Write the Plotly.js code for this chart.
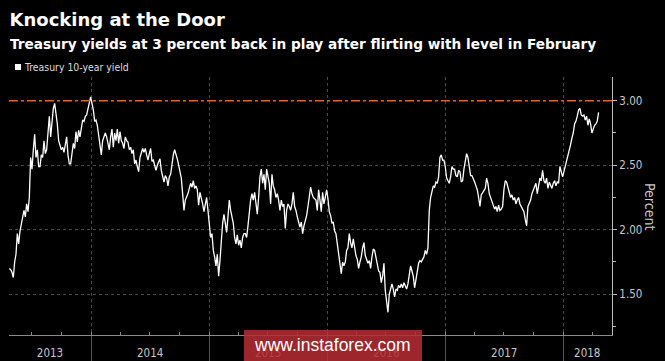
<!DOCTYPE html>
<html>
<head>
<meta charset="utf-8">
<script src="https://cdn.plot.ly/plotly-3.0.1.min.js"></script>
<style>
  html, body { margin: 0; padding: 0; background: #000; }
  #chart { width: 665px; height: 361px; }
</style>
</head>
<body>
<div id="chart"></div>
<script>
// ---- data ----
const seriesName = 'Treasury 10-year yield';
const startDate = '2013-04-22';      // first observation
const stepDays = 4.127;              // spacing between sampled observations
const yields2013 = [1.70,1.69,1.67,1.63,1.75,1.81,1.97,1.89,1.99,2.05,2.12,2.15,2.10,2.20,2.14,2.25,2.56,2.47,2.62,2.74,
  2.56,2.62,2.49,2.49,2.58,2.56,2.69,2.59,2.62,2.77,2.88,2.72,2.84,2.94,2.98,2.90,2.82,2.69,2.66,2.62,
  2.64,2.60,2.66,2.72,2.58,2.51,2.51,2.58,2.67,2.63,2.76,2.68,2.77,2.72,2.81,2.85,2.84,2.88,2.89,2.94,
  2.98,3.03,2.98,2.93,2.84,2.85,2.81,2.73,2.69,2.58,2.69,2.73,2.75,2.72,2.67,2.62,2.72,2.78,2.64,2.75,
  2.69,2.78,2.67,2.76,2.69,2.67,2.63];
const yields2014 = [2.72,2.69,2.68,2.62,2.64,2.59,2.62,2.51,2.54,2.49,2.45,2.56,2.60,2.63,2.60,2.63,2.58,2.54,2.59,2.63,
  2.53,2.54,2.50,2.46,2.50,2.53,2.55,2.46,2.42,2.37,2.42,2.40,2.34,2.41,2.43,2.53,2.58,2.62,2.59,2.55,
  2.50,2.46,2.40,2.28,2.15,2.23,2.25,2.28,2.32,2.36,2.33,2.38,2.32,2.34,2.31,2.19,2.29,2.25,2.20,2.14,
  2.19,2.25,2.15,2.05,1.94,1.97,1.84,1.79,1.72,1.81,1.64,1.76,1.92,2.05,2.12,2.06,1.98,2.10,2.23,2.15,
  2.10,2.05,1.94,1.89,1.96,1.88,1.92,1.86,1.94,1.97];
const yields2015 = [1.97,1.94,2.03,2.15,2.23,2.28,2.23,2.29,2.18,2.12,2.25,2.41,2.47,2.36,2.43,2.31,2.47,2.40,2.36,2.20,
  2.43,2.34,2.31,2.25,2.28,2.23,2.15,2.23,2.18,2.20,2.01,2.15,2.20,2.18,2.15,2.20,2.29,2.18,2.15,2.10,
  2.05,2.02,2.06,1.97,2.03,2.07,2.11,2.18,2.25,2.33,2.28,2.25,2.24,2.23,2.15,2.31,2.23,2.14,2.29,2.20,
  2.25,2.31,2.24,2.14,2.11,2.05,2.06,1.99,1.97,1.89,1.81,1.74,1.66,1.75,1.72,1.75,1.84,1.86,1.97,1.90,
  1.86,1.93,1.86,1.80,1.77,1.70,1.75,1.79,1.86,1.90];
const yields2016 = [1.80,1.77,1.74,1.76,1.70,1.79,1.85,1.84,1.79,1.74,1.68,1.67,1.59,1.64,1.74,1.53,1.42,1.36,1.50,1.55,
  1.58,1.54,1.48,1.54,1.53,1.57,1.55,1.58,1.55,1.59,1.57,1.54,1.58,1.66,1.72,1.68,1.64,1.55,1.61,1.68,
  1.74,1.76,1.75,1.77,1.79,1.84,1.81,1.86,2.15,2.25,2.29,2.34,2.33,2.37,2.36,2.41,2.56,2.58,2.54,2.54,
  2.49,2.40,2.38,2.36,2.41,2.49,2.47,2.47,2.42,2.41,2.46,2.45,2.37,2.38,2.47,2.54,2.59,2.56,2.47,2.42,
  2.42,2.40,2.37,2.34,2.31,2.25,2.18,2.27,2.29,2.31];
const yields2017 = [2.32,2.40,2.36,2.28,2.25,2.23,2.19,2.16,2.18,2.14,2.19,2.15,2.16,2.18,2.31,2.38,2.37,2.33,2.31,2.25,
  2.27,2.23,2.25,2.20,2.23,2.25,2.20,2.18,2.16,2.14,2.08,2.03,2.18,2.20,2.23,2.28,2.31,2.33,2.36,2.28,
  2.33,2.40,2.38,2.46,2.38,2.36,2.40,2.32,2.37,2.34,2.32,2.36,2.38,2.34,2.37,2.36,2.49,2.45,2.41,2.45,
  2.49,2.54,2.56,2.62,2.66,2.71,2.75,2.82,2.84,2.88,2.93,2.94,2.89,2.88,2.89,2.85,2.88,2.81,2.86,2.82,
  2.75,2.78,2.81,2.82,2.84,2.91];
const yields = [].concat(yields2013, yields2014, yields2015, yields2016, yields2017);

const thresholdLevel = 3.00;
const yTickVals = [1.50, 2.00, 2.50, 3.00];
const yTickText = ['1.50', '2.00', '2.50', '3.00'];
const yMinorVals = [1.25, 1.75, 2.25, 2.75];
const yearBoundaries = ['2014-01-01', '2015-01-01', '2016-01-01', '2017-01-01', '2018-01-01'];
const yearLabels = ['2013', '2014', '2015', '2016', '2017', '2018'];
const yearLabelPos = ['2013-08-26', '2014-07-02', '2015-07-02', '2016-07-02', '2017-07-02', '2018-03-16'];
const xRange = ['2013-04-21', '2018-05-31 16:00'];
const yRange = [1.184, 3.184];

const titleText = 'Knocking at the Door';
const subtitleText = 'Treasury yields at 3 percent back in play after flirting with level in February';
const axisTitleText = 'Percent';
const watermarkText = 'www.instaforex.com';

// ---- chart ----
const condensed = '"DejaVu Sans Condensed", "DejaVu Sans", sans-serif';
const traces = [
  {
    type: 'scatter', mode: 'lines', name: seriesName,
    x0: startDate, dx: stepDays * 86400000, y: yields,
    line: { color: '#ffffff', width: 1.3 },
    showlegend: false, hoverinfo: 'x+y'
  },
  {
    type: 'scatter', mode: 'markers', x: yearLabelPos, y: yearLabelPos.map(() => null),
    xaxis: 'x2', yaxis: 'y', showlegend: false, hoverinfo: 'skip'
  }
];

const layout = {
  width: 665, height: 361,
  paper_bgcolor: '#000', plot_bgcolor: '#000',
  margin: { l: 9, r: 53, t: 77, b: 26, pad: 0 },
  showlegend: false,
  title: {
    text: '<b>' + titleText + '</b>',
    font: { family: '"DejaVu Sans", sans-serif', size: 18, color: '#ffffff' },
    xref: 'container', yref: 'container',
    x: 9.5 / 665, xanchor: 'left', y: 1 - 20 / 361, yanchor: 'middle', pad: { t: 0, b: 0, l: 0, r: 0 }
  },
  xaxis: {
    type: 'date', range: xRange,
    tickmode: 'array', tickvals: yearBoundaries, showticklabels: false,
    ticks: 'outside', ticklen: 26, tickcolor: '#555', tickwidth: 1,
    showgrid: true, gridcolor: '#4a4a4a', griddash: 'dot', gridwidth: 1,
    showline: true, linecolor: '#8a8a8a', linewidth: 1,
    zeroline: false, fixedrange: true,
    minor: { dtick: 'M3', tick0: '2013-01-01', ticks: 'inside', ticklen: 3, tickcolor: '#8a8a8a', showgrid: false }
  },
  xaxis2: {
    type: 'date', range: xRange, overlaying: 'x', anchor: 'y', side: 'bottom',
    tickmode: 'array', tickvals: yearLabelPos, ticktext: yearLabels,
    ticks: '', showgrid: false, showline: false, zeroline: false,
    ticklabelstandoff: 9,
    tickfont: { family: condensed, size: 11.5, color: '#c8c8c8' }
  },
  yaxis: {
    side: 'right', range: yRange,
    tickmode: 'array', tickvals: yTickVals, ticktext: yTickText,
    ticks: 'outside', ticklen: 4, tickcolor: '#bbbbbb', tickwidth: 1,
    tickfont: { family: condensed, size: 11.5, color: '#c8c8c8' },
    showgrid: true, gridcolor: '#4a4a4a', griddash: 'dot', gridwidth: 1,
    showline: true, linecolor: '#bbbbbb', linewidth: 1,
    zeroline: false, fixedrange: true,
    minor: { tickvals: yMinorVals, ticks: 'outside', ticklen: 3, tickcolor: '#bbbbbb', showgrid: false }
  },
  shapes: [
    { type: 'line', xref: 'paper', x0: 0, x1: 1, yref: 'y', y0: thresholdLevel, y1: thresholdLevel,
      line: { color: '#ff5a14', width: 1.6, dash: 'dashdot' }, layer: 'above' },
    { type: 'rect', xref: 'paper', yref: 'paper', x0: (15 - 9) / 603, x1: (21 - 9) / 603,
      y0: (335 - 70) / 258, y1: (335 - 64) / 258,
      fillcolor: '#ffffff', line: { width: 0 } },
    { type: 'rect', xref: 'paper', yref: 'paper', x0: (244 - 9) / 603, x1: (422 - 9) / 603,
      y0: (335 - 362) / 258, y1: (335 - 330) / 258,
      fillcolor: 'rgba(182,44,50,0.86)', line: { width: 0 }, layer: 'above' }
  ],
  annotations: [
    { text: '<b>' + subtitleText + '</b>', xref: 'paper', yref: 'paper',
      x: (8 - 9) / 603, xanchor: 'left', y: (335 - 44) / 258, yanchor: 'middle', showarrow: false,
      font: { family: '"DejaVu Sans", sans-serif', size: 13.7, color: '#ffffff' } },
    { text: seriesName, xref: 'paper', yref: 'paper',
      x: (22 - 9) / 603, xanchor: 'left', y: (335 - 67) / 258, yanchor: 'middle', showarrow: false,
      font: { family: condensed, size: 10.4, color: '#dddddd' } },
    { text: axisTitleText, xref: 'paper', yref: 'paper', textangle: 90,
      x: (650 - 9) / 603, xanchor: 'center', y: (335 - 206) / 258, yanchor: 'middle', showarrow: false,
      font: { family: condensed, size: 14, color: '#c8c8c8' } },
    { text: watermarkText, xref: 'paper', yref: 'paper',
      x: (332 - 9) / 603, xanchor: 'center', y: (335 - 345) / 258, yanchor: 'middle', showarrow: false,
      font: { family: '"Liberation Sans", Arial, sans-serif', size: 17.5, color: '#ffffff' } }
  ]
};

Plotly.newPlot('chart', traces, layout, { displayModeBar: false, staticPlot: true });
</script>
</body>
</html>
